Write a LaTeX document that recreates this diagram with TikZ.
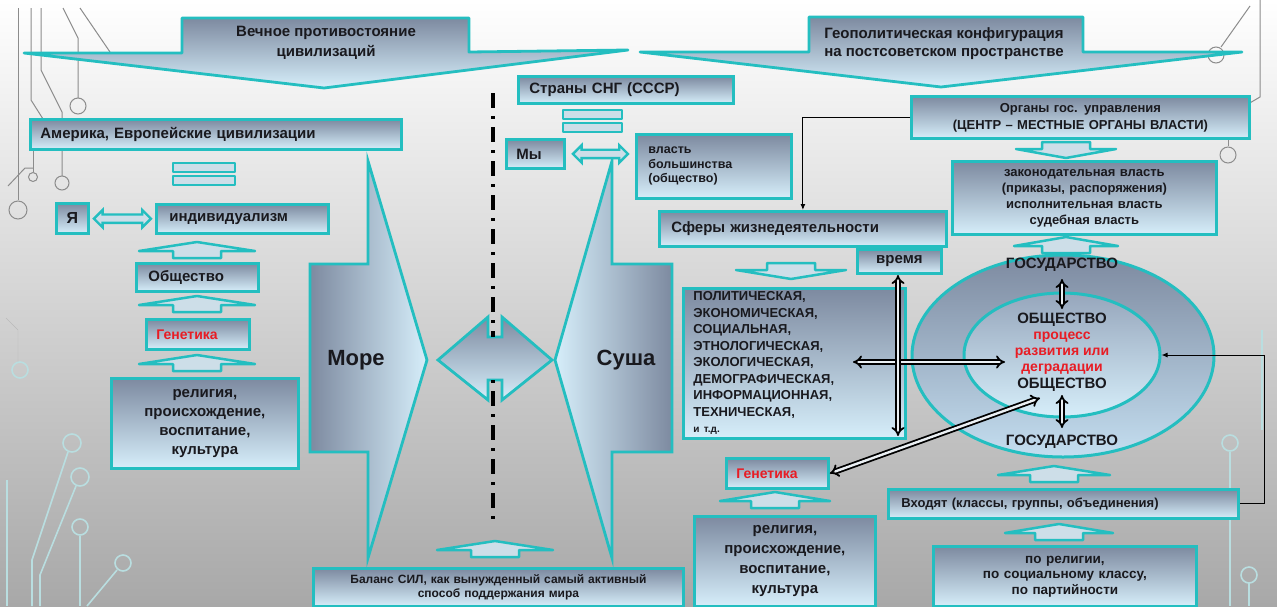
\documentclass[tikz,border=0pt]{standalone}
\usepackage{fontspec}
\setmainfont{Liberation Sans}
\usetikzlibrary{shapes.geometric,shapes.arrows,arrows.meta,calc}
\definecolor{cy}{RGB}{36,190,192}
\definecolor{bdark}{RGB}{125,138,160}
\definecolor{blight}{RGB}{214,238,250}
\definecolor{redt}{RGB}{232,28,36}
\definecolor{txt}{RGB}{25,25,30}
\definecolor{deco}{RGB}{140,140,140}
\definecolor{decol}{RGB}{185,222,224}
\definecolor{flatfill}{RGB}{205,222,232}
\definecolor{bgbot}{RGB}{168,168,168}
\definecolor{hollowin}{RGB}{235,240,244}
\tikzset{
 box/.style={draw=cy, line width=2.8pt, top color=bdark, bottom color=blight, inner xsep=10pt, inner ysep=1pt, text=txt, font=\bfseries\fontsize{15}{18}\selectfont},
 flat/.style={draw=cy, line width=2.5pt, fill=flatfill, line join=round},
 cyarr/.style={double arrow, draw=cy, line width=2.4pt, fill=flatfill, inner sep=3pt, double arrow head extend=4.5pt, minimum width=16pt},
 hollow/.style={draw=black, double=hollowin, double distance=2.4pt, line width=1.8pt, {Implies}-{Implies}},
 thinarr/.style={draw=black, line width=1pt, -{Latex[length=6pt,width=5pt]}},
 gtxt/.style={font=\bfseries\fontsize{15}{18}\selectfont, text=txt, inner sep=0pt},
 rtxt/.style={font=\bfseries\fontsize{14}{16}\selectfont, text=redt, inner sep=0pt},
 deco/.style={draw=deco, line width=1pt},
 decol/.style={draw=decol, line width=1.6pt},
}
\newcommand\bx[7]{%
 \pgfmathsetmacro\bw{#4-#2}\pgfmathsetmacro\bh{#5-#3}\pgfmathsetmacro\tw{#4-#2-20}%
 \node[box,anchor=north west,minimum width=\bw pt,minimum height=\bh pt,text width=\tw pt,#6] (#1) at (#2,#3) {#7};}
\newcommand\flatup[3]{%
 \draw[flat] ({#1-#3},{#2+9}) -- (#1,#2) -- ({#1+#3},{#2+9}) -- ({#1+24},{#2+9}) -- ({#1+24},{#2+16}) -- ({#1-24},{#2+16}) -- ({#1-24},{#2+9}) -- cycle;}
\newcommand\flatdown[3]{%
 \draw[flat] ({#1-24},#2) -- ({#1+24},#2) -- ({#1+24},{#2+7}) -- ({#1+#3},{#2+7}) -- (#1,{#2+16}) -- ({#1-#3},{#2+7}) -- ({#1-24},{#2+7}) -- cycle;}
\newcommand\eqs[4]{%
 \draw[flat] (#1,#2) rectangle (#3,{#2+9}); \draw[flat] (#1,{#4-9}) rectangle (#3,#4);}
\begin{document}
\begin{tikzpicture}[x=1pt,y=-1pt]
\useasboundingbox (0,0) rectangle (1277,606);
\shade[top color=white, bottom color=bgbot] (0,0) rectangle (1277,606);
% background circuit decoration
\draw[deco] (18,8) -- (18,200);
\draw[deco] (31,8) -- (31,100) -- (50,130);
\draw[deco] (41,8) -- (41,70) -- (62,112) -- (62,176);
\draw[deco] (62,183) circle (7);
\draw[deco] (63,8) -- (78,38) -- (78,98);
\draw[deco] (78,106) circle (8);
\draw[deco] (80,8) -- (110,52);
\draw[deco] (33,150) -- (33,172);
\draw[deco] (33,177) circle (4.5);
\draw[deco] (8,186) -- (25,168) -- (33,168);
\draw[deco] (18,210) circle (9);
\draw[deco!60] (6,318) -- (18,330) -- (18,362);
\draw[decol] (20,370) circle (8);
\draw[decol] (7,480) -- (7,606);
\draw[decol] (32,606) -- (32,560) -- (68,452);
\draw[decol] (72,443) circle (9);
\draw[decol] (40,606) -- (40,575) -- (76,486);
\draw[decol] (80,477) circle (9);
\draw[decol] (80,536) -- (80,606);
\draw[decol] (80,527) circle (8);
\draw[decol] (87,606) -- (117,570);
\draw[decol] (123,563) circle (8);
\draw[deco] (1260,0) -- (1260,97) -- (1248,104);
\draw[deco] (1250,6) -- (1221,47);
\draw[deco] (1216,55) circle (8);
\draw[deco] (1228,137) -- (1228,146);
\draw[deco] (1228,155) circle (8);
\draw[decol] (1230,452) -- (1230,606);
\draw[decol] (1230,443) circle (8);
\draw[decol] (1249,583) -- (1249,606);
\draw[decol] (1249,575) circle (8);
\draw[decol] (1262,330) -- (1262,430);
% banners
\draw[draw=cy, line width=2.8pt, top color=bdark, bottom color=blight, line join=round]
 (24,53) -- (182,53) -- (182,18) -- (469,18) -- (469,52) -- (628,50) -- (324,88) -- cycle;
\node[gtxt, align=center, font=\bfseries\fontsize{15}{20}\selectfont] (ban1) at (326,43) {Вечное противостояние\\цивилизаций};
\draw[draw=cy, line width=2.8pt, top color=bdark, bottom color=blight, line join=round]
 (640,52) -- (809,52) -- (809,17) -- (1083,17) -- (1083,52) -- (1242,52) -- (941,87) -- cycle;
\node[gtxt, align=center, font=\bfseries\fontsize{15}{18}\selectfont] (ban2) at (944,44) {Геополитическая конфигурация\\на постсоветском пространстве};
% left column
\bx{amer}{29}{118}{400}{148}{align=left}{Америка, Европейские цивилизации}
\eqs{173}{163}{235}{185}
\bx{ya}{55}{202}{87}{232}{inner xsep=4pt, text width=24pt, align=center, font=\bfseries\fontsize{16}{18}\selectfont}{Я}
\bx{indiv}{155}{203}{327}{232}{align=left, inner xsep=13pt, text width=146pt}{индивидуализм}
\node[cyarr, minimum height=57pt] (a1) at ($(ya.east)!.5!(indiv.west)$) {};
\flatup{197}{242}{58}
\bx{obsh}{135}{262}{257}{290}{align=left, inner xsep=12pt, text width=98pt}{Общество}
\flatup{197}{296}{58}
\bx{genL}{145}{318}{248}{348}{align=left, text=redt, font=\bfseries\fontsize{14}{16}\selectfont}{Генетика}
\flatup{197}{355}{58}
\bx{relL}{110}{377}{297}{467}{align=center, font=\bfseries\fontsize{15}{19}\selectfont}{религия,\\происхождение,\\воспитание,\\культура}
% sea / land
\draw[draw=cy, line width=2.8pt, left color=bdark, right color=blight, line join=miter]
 (310,264) -- (368,264) -- (368,161) -- (427,360) -- (368,558) -- (368,452) -- (310,452) -- cycle;
\node[gtxt, font=\bfseries\fontsize{22}{26}\selectfont] (more) at (356,360) {Море};
\draw[draw=cy, line width=2.8pt, left color=blight, right color=bdark, line join=miter]
 (672,264) -- (612,264) -- (612,161) -- (555,360) -- (612,558) -- (612,452) -- (672,452) -- cycle;
\node[gtxt, font=\bfseries\fontsize{22}{26}\selectfont] (susha) at (626,360) {Суша};
\draw[draw=cy, line width=2.8pt, top color=bdark, bottom color=blight, line join=miter]
 (438,360) -- (488,317) -- (488,337) -- (502,337) -- (502,317) -- (552,360) -- (502,400) -- (502,380) -- (488,380) -- (488,400) -- cycle;
\coordinate (dl1) at (493,93); \coordinate (dl2) at (493,337);
\coordinate (dl3) at (493,380); \coordinate (dl4) at (493,523);
\draw[black, line width=3.5pt, dash pattern=on 15pt off 8pt on 3pt off 8pt] (dl1) -- (dl2);
\draw[black, line width=3.5pt, dash pattern=on 3pt off 8pt on 15pt off 8pt] (dl3) -- (dl4);
\flatup{495}{541}{58}
\bx{balans}{312}{567}{682}{605}{align=center, font=\bfseries\fontsize{12}{13.5}\selectfont}{Баланс СИЛ, как вынужденный самый активный\\способ поддержания мира}
% middle top
\bx{strany}{517}{75}{732}{102}{align=left, inner xsep=11pt, text width=193pt}{Страны СНГ (СССР)}
\eqs{563}{110}{622}{132}
\bx{my}{505}{138}{563}{167}{align=left, text width=38pt}{Мы}
\bx{vlast}{635}{133}{790}{197}{align=left, inner xsep=12pt, text width=131pt, font=\bfseries\fontsize{12.5}{14.5}\selectfont}{власть\\большинства\\(общество)}
\node[cyarr, minimum height=55pt] (a2) at ($(my.east)!.5!(vlast.west|-my.east)$) {};
% right part
\bx{organs}{910}{95}{1248}{137}{align=center, font=\bfseries\fontsize{13}{17}\selectfont}{Органы гос. управления\\(ЦЕНТР – МЕСТНЫЕ ОРГАНЫ ВЛАСТИ)}
\flatdown{1066}{142}{50}
\bx{zakon}{951}{160}{1215}{233}{align=center, font=\bfseries\fontsize{13}{16}\selectfont}{законодательная власть\\(приказы, распоряжения)\\исполнительная власть\\судебная власть}
\bx{sfery}{658}{210}{945}{245}{align=left, inner xsep=12pt, text width=263pt}{Сферы жизнедеятельности}
\draw[thinarr] (organs.west) -| (sfery.north);
\bx{vremya}{856}{248}{940}{272}{align=center}{время}
\flatdown{791}{263}{55}
\bx{polit}{682}{287}{904}{437}{align=left, font=\bfseries\fontsize{13}{16.5}\selectfont}{ПОЛИТИЧЕСКАЯ,\\ЭКОНОМИЧЕСКАЯ,\\СОЦИАЛЬНАЯ,\\ЭТНОЛОГИЧЕСКАЯ,\\ЭКОЛОГИЧЕСКАЯ,\\ДЕМОГРАФИЧЕСКАЯ,\\ИНФОРМАЦИОННАЯ,\\ТЕХНИЧЕСКАЯ,\\{\fontsize{10}{12}\selectfont и т.д.}}
\flatup{1066}{237}{52}
\node[ellipse, draw=cy, line width=3pt, top color=bdark, bottom color={rgb,255:red,196;green,222;blue,240}, minimum width=302pt, minimum height=202pt, inner sep=0pt] (outer) at (1063,356) {};
\node[ellipse, draw=cy, line width=3pt, top color={rgb,255:red,150;green,166;blue,188}, bottom color=blight, minimum width=196pt, minimum height=124pt, inner sep=0pt] (inner) at (1062,355) {};
\node[gtxt] (gos1) at (1062,265) {ГОСУДАРСТВО};
\node[gtxt] (obs1) at (1062,320) {ОБЩЕСТВО};
\node[rtxt] (pr1) at (1062,337) {процесс};
\node[rtxt] (pr2) at (1062,353) {развития или};
\node[rtxt] (pr3) at (1062,369) {деградации};
\node[gtxt] (obs2) at (1062,385) {ОБЩЕСТВО};
\node[gtxt] (gos2) at (1062,442) {ГОСУДАРСТВО};
\coordinate (s1) at (1062,279); \coordinate (s2) at (1062,309);
\coordinate (s3) at (1062,395); \coordinate (s4) at (1062,428);
\draw[hollow] (s1) -- (s2);
\draw[hollow] (s3) -- (s4);
\coordinate (v1) at (898,275); \coordinate (v2) at (898,436);
\coordinate (h1) at (853,362); \coordinate (h2) at (1005,362);
\draw[hollow] (h1) -- (h2);
\draw[hollow] (v1) -- (v2);
% bottom right
\bx{genR}{725}{457}{827}{487}{align=left, text=redt, font=\bfseries\fontsize{14}{16}\selectfont}{Генетика}
\coordinate (d1) at (1040,398);
\draw[hollow] (d1) -- (genR.east);
\flatup{775}{492}{55}
\bx{relR}{693}{515}{874}{605}{align=center, font=\bfseries\fontsize{15}{20}\selectfont}{религия,\\происхождение,\\воспитание,\\культура}
\flatup{1054}{466}{56}
\bx{vhod}{887}{488}{1237}{517}{align=left, inner xsep=13pt, text width=324pt, font=\bfseries\fontsize{13}{16}\selectfont}{Входят (классы, группы, объединения)}
\draw[thinarr] (vhod.east) -- ++(25,0) |- (inner.east);
\flatup{1059}{524}{54}
\bx{porel}{932}{545}{1195}{605}{align=center, font=\bfseries\fontsize{13.5}{15.5}\selectfont}{по религии,\\по социальному классу,\\по партийности}
\end{tikzpicture}
\end{document}
